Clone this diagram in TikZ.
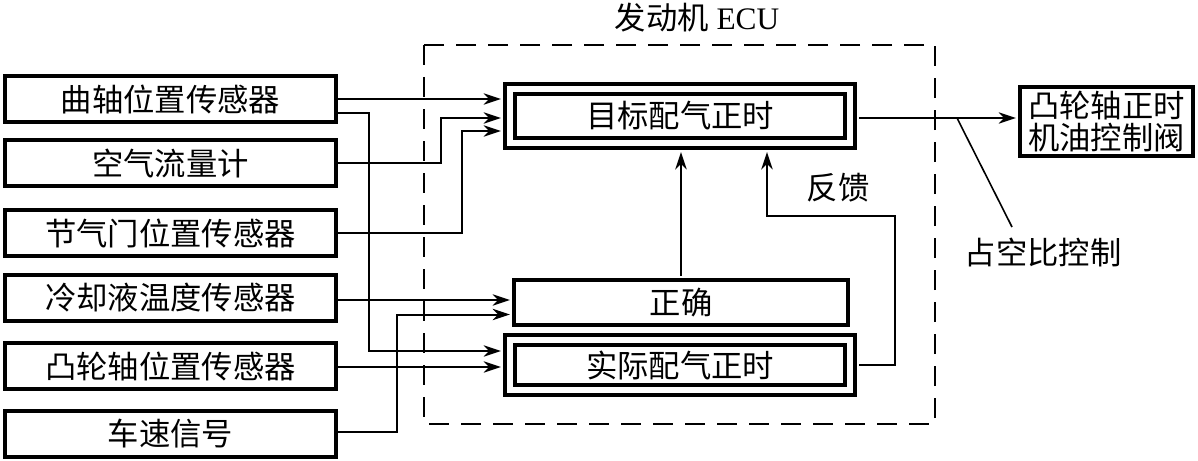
\documentclass[tikz,border=0pt]{standalone}
\usepackage{fontspec}
\setmainfont{Liberation Serif}
\newfontfamily\cjk{Noto Sans CJK SC}
\usetikzlibrary{arrows.meta,calc}
\tikzset{
  txt/.style={font=\cjk\fontsize{23.5}{27}\selectfont},
  sbox/.style={draw, line width=3pt, txt, minimum width=248.25pt, minimum height=34.5pt, inner sep=0pt},
  dbox/.style={draw, line width=3pt, double=white, double distance=4.5pt, txt, minimum width=255pt, inner sep=0pt},
  cbox/.style={draw, line width=3pt, txt, minimum width=250.5pt, minimum height=33.75pt, inner sep=0pt},
  obox/.style={draw, line width=3pt, txt, minimum width=129.75pt, minimum height=51.75pt, inner sep=0pt, align=center},
  conn/.style={line width=1.5pt},
  arr/.style={conn, -{Stealth[length=13pt,width=8.5pt,inset=4pt]}},
  ecubox/.style={line width=1.5pt, dash pattern=on 15pt off 9pt},
  lbl/.style={txt, inner sep=0pt}
}
\begin{document}
\begin{tikzpicture}[x=0.75pt,y=-0.75pt]
\useasboundingbox (0,0) rectangle (1198,460);
\draw[ecubox] (424,45) rectangle (935,424);
\node[inner sep=0pt, font=\rmfamily\fontsize{23.5}{27}\selectfont] (E) at (697,18) {{\cjk 发动机} ECU};

\node[sbox] (s1) at (170.5,99) {曲轴位置传感器};
\node[sbox] (s2) at (170.5,163) {空气流量计};
\node[sbox] (s3) at (170.5,233) {节气门位置传感器};
\node[sbox] (s4) at (170.5,298) {冷却液温度传感器};
\node[sbox] (s5) at (170.5,366) {凸轮轴位置传感器};
\node[sbox] (s6) at (170.5,434) {车速信号};

\node[dbox, minimum height=40.5pt] (T) at (680,116) {目标配气正时};
\node[cbox] (C) at (681,302.5) {正确};
\node[dbox, minimum height=37.5pt] (A) at (680,365) {实际配气正时};
\node[obox] (O) at (1106.5,121.5) {凸轮轴正时\\[-3pt]机油控制阀};

\node[lbl] (F) at (838,188) {反馈};
\node[lbl] (D) at (1043,252) {占空比控制};

% inputs
\draw[arr, shorten >=5.25pt] (s1.east) -- (s1.east -| T.west);
\draw[arr, shorten >=5.25pt] ($(s1.east)+(0,14)$) -| ($(A.west)+(-139,-14)$) -- ($(A.west)+(0,-14)$);
\draw[arr, shorten >=5.25pt] (s2.east) -| ($(T.west)+(-67,2)$) -- ($(T.west)+(0,2)$);
\draw[arr, shorten >=5.25pt] (s3.east) -| ($(T.west)+(-46,15)$) -- ($(T.west)+(0,15)$);
\draw[arr, shorten >=1.5pt] ($(s4.east)+(0,2)$) -- ($(s4.east -| C.west)+(0,2)$);
\draw[arr, shorten >=1.5pt] ($(s6.east)+(0,-2)$) -| ($(C.west)+(-115,12)$) -- ($(C.west)+(0,12)$);
\draw[arr, shorten >=5.25pt] ($(s5.east)+(0,1)$) -- ($(s5.east -| A.west)+(0,1)$);

% internal
\draw[arr, shorten <=1.5pt, shorten >=5.25pt] (C.north) -- (C.north |- T.south);
\draw[arr, shorten <=5.25pt, shorten >=5.25pt] (A.east) -- ++(43,0) |- ($(T.south)+(87,71)$) -- ($(T.south)+(87,0)$);

% output
\draw[arr, shorten <=5.25pt, shorten >=1.5pt] ($(T.east)+(0,2)$) -- ($(T.east -| O.west)+(0,2)$);
\draw[conn, line width=1.2pt] ($(T.east)+(105,2)$) -- ($(D.center)+(-31,-25)$);
\end{tikzpicture}
\end{document}
